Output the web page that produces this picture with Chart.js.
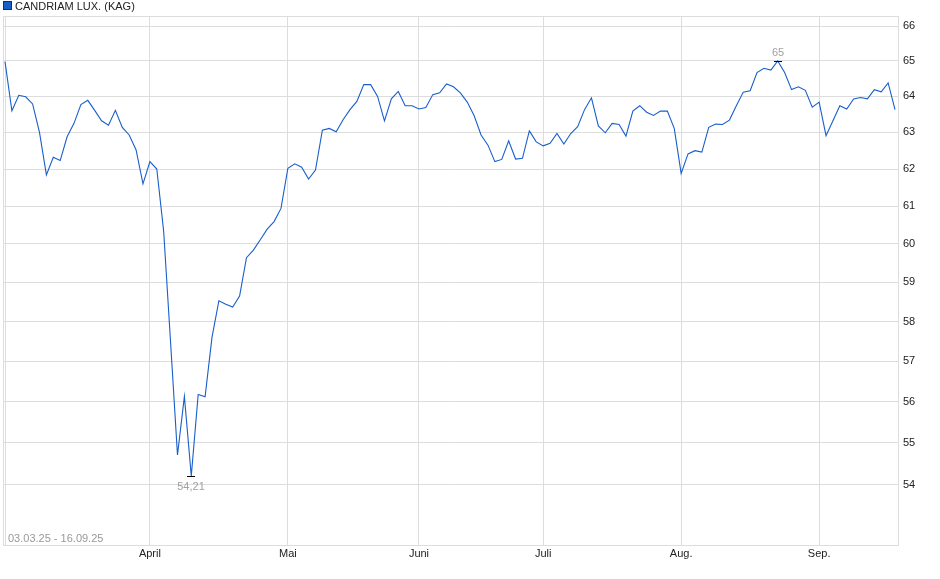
<!DOCTYPE html>
<html>
<head>
<meta charset="utf-8">
<script src="https://cdn.jsdelivr.net/npm/chart.js@4.4.1/dist/chart.umd.min.js"></script>
<style>
  html, body { margin: 0; padding: 0; background: #fff; }
  canvas { display: block; }
</style>
</head>
<body>
<canvas id="chart" width="940" height="579"></canvas>
<script>
const seriesName = 'CANDRIAM LUX. (KAG)'
const rangeLabel = '03.03.25 - 16.09.25'

// one value per trading day, 03.03.25 .. 16.09.25
const prices = [
  64.98, 63.6, 64.03, 63.99, 63.79, 63.0, 61.84, 62.32, 62.23, 62.88,
  63.25, 63.77, 63.89, 63.61, 63.32, 63.2, 63.61, 63.14, 62.93, 62.52,
  61.6, 62.2, 62.0, 60.33, 57.47, 54.71, 56.13, 54.21, 56.18, 56.12,
  57.6, 58.53, 58.44, 58.37, 58.65, 59.64, 59.84, 60.11, 60.39, 60.59,
  60.94, 62.02, 62.14, 62.05, 61.73, 61.97, 63.06, 63.11, 63.02, 63.35,
  63.63, 63.86, 64.33, 64.33, 64.0, 63.32, 63.93, 64.14, 63.74, 63.74,
  63.65, 63.69, 64.05, 64.1, 64.35, 64.27, 64.1, 63.84, 63.46, 62.93,
  62.65, 62.2, 62.26, 62.77, 62.27, 62.29, 63.04, 62.74, 62.63, 62.7,
  62.97, 62.68, 62.97, 63.16, 63.63, 63.96, 63.18, 62.99, 63.25, 63.22,
  62.9, 63.59, 63.74, 63.56, 63.47, 63.59, 63.59, 63.11, 61.88, 62.41,
  62.5, 62.46, 63.14, 63.23, 63.22, 63.34, 63.74, 64.12, 64.16, 64.67,
  64.79, 64.74, 65.0, 64.67, 64.19, 64.27, 64.17, 63.7, 63.84, 62.91,
  63.32, 63.74, 63.65, 63.93, 63.97, 63.93, 64.19, 64.13, 64.38, 63.63
]

// index of the first trading day of each month
const monthTicks = [21, 41, 60, 78, 98, 118]
const monthNames = ['April', 'Mai', 'Juni', 'Juli', 'Aug.', 'Sep.']
const yTicks = [54, 55, 56, 57, 58, 59, 60, 61, 62, 63, 64, 65, 66]

const lineColor = '#185ecb'
const gridColor = '#dddddd'
const fontFamily = "'Liberation Sans', Arial, sans-serif"

const points = prices.map((v, i) => ({ x: i, y: v }))

const fmt = v => String(Math.round(v * 100) / 100).replace('.', ',')

const decorations = {
  id: 'decorations',
  beforeDatasetsDraw(chart) {
    const { ctx, chartArea: a } = chart
    ctx.save()
    ctx.strokeStyle = gridColor
    ctx.lineWidth = 1
    ctx.strokeRect(a.left + 0.5, a.top + 0.5, a.right - a.left, a.bottom - a.top)
    ctx.restore()
  },
  afterDraw(chart) {
    const { ctx, chartArea: a } = chart
    const xs = chart.scales.x
    const ys = chart.scales.y
    ctx.save()

    // legend
    ctx.fillStyle = lineColor
    ctx.fillRect(4, 2, 7, 7)
    ctx.strokeStyle = '#1b2f5c'
    ctx.lineWidth = 1
    ctx.strokeRect(3.5, 1.5, 8, 8)
    ctx.fillStyle = '#222'
    ctx.font = '11px ' + fontFamily
    ctx.textBaseline = 'alphabetic'
    ctx.textAlign = 'left'
    ctx.fillText(seriesName, 15, 10)

    // period in lower left corner
    ctx.fillStyle = '#999'
    ctx.fillText(rangeLabel, a.left + 5, a.bottom - 3)

    // high / low markers
    let hi = 0, lo = 0
    prices.forEach((v, i) => {
      if (v > prices[hi]) hi = i
      if (v < prices[lo]) lo = i
    })
    const mark = (i, above) => {
      const px = Math.round(xs.getPixelForValue(i))
      const py = Math.round(ys.getPixelForValue(prices[i])) + 0.5
      ctx.strokeStyle = '#000'
      ctx.beginPath()
      ctx.moveTo(px - 4, py)
      ctx.lineTo(px + 4, py)
      ctx.stroke()
      ctx.fillStyle = '#a0a0a0'
      ctx.textAlign = 'center'
      ctx.textBaseline = above ? 'bottom' : 'top'
      ctx.fillText(fmt(prices[i]), px, above ? py - 3 : py + 5)
    }
    mark(hi, true)
    mark(lo, false)
    ctx.restore()
  }
}

new Chart(document.getElementById('chart'), {
  type: 'line',
  data: {
    datasets: [{
      label: seriesName,
      data: points,
      borderColor: lineColor,
      borderWidth: 1.1,
      pointRadius: 0,
      tension: 0,
      fill: false
    }]
  },
  options: {
    responsive: false,
    animation: false,
    layout: { padding: { top: 16, left: 3, right: 0, bottom: 0 } },
    plugins: {
      legend: { display: false },
      tooltip: { enabled: false }
    },
    scales: {
      x: {
        type: 'linear',
        min: -0.29,
        max: 129.43,
        afterBuildTicks: scale => {
          scale.ticks = [0].concat(monthTicks).map(v => ({ value: v }))
        },
        afterFit: scale => { scale.height = 34 },
        grid: { color: gridColor, drawTicks: false },
        border: { color: gridColor },
        ticks: {
          autoSkip: false,
          maxRotation: 0,
          padding: 2,
          color: '#222',
          font: { family: fontFamily, size: 11 },
          callback: v => {
            const k = monthTicks.indexOf(v)
            return k >= 0 ? monthNames[k] : ''
          }
        }
      },
      y: {
        type: 'logarithmic',
        position: 'right',
        min: 52.6,
        max: 66.29,
        afterBuildTicks: scale => {
          scale.ticks = yTicks.map(v => ({ value: v }))
        },
        afterFit: scale => { scale.width = 42 },
        grid: { color: gridColor, drawTicks: false },
        border: { color: gridColor },
        ticks: {
          padding: 5,
          color: '#222',
          font: { family: fontFamily, size: 11 },
          callback: v => String(v)
        }
      }
    }
  },
  plugins: [decorations]
})
</script>
</body>
</html>
